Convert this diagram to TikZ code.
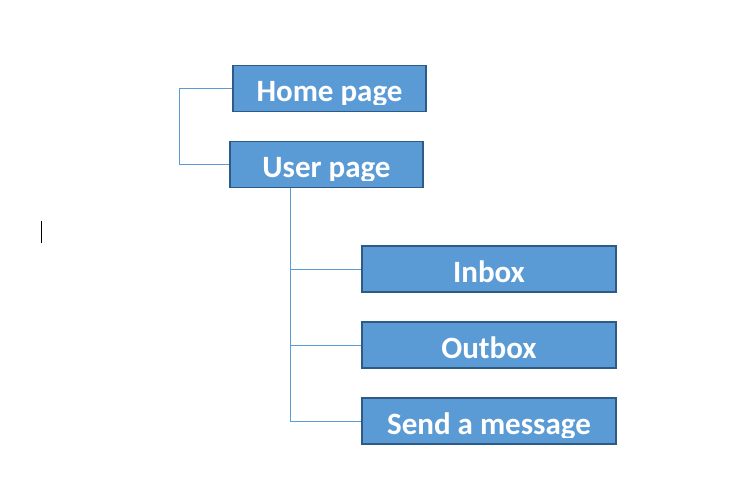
\documentclass[tikz,border=0pt]{standalone}
\usepackage{fontspec}
\setmainfont{Carlito}
\usetikzlibrary{positioning, calc}

\definecolor{pagefill}{HTML}{5B9BD5}
\definecolor{pageline}{HTML}{2E5A87}
\definecolor{linkcol}{HTML}{5B9BD5}

\tikzset{
  page/.style={draw=pageline, fill=pagefill, line width=1.5pt, inner sep=0pt, minimum height=46pt},
  pagetext/.style={anchor=base, text=white, inner sep=0pt, font=\bfseries\fontsize{31}{36}\selectfont},
  link/.style={draw=linkcol, line width=0.8pt},
}

\begin{document}
\begin{tikzpicture}[x=1pt, y=-1pt]
        \useasboundingbox (0,0) rectangle (730,502);

        % TOP LEVEL
        \node[page, minimum width=193pt] (home) at (329.5,88.5) {};
        \begin{scope}
          \clip ([yshift=-40pt]home.north west) rectangle (home.north east);
          \node[pagetext] (hometext) at ([yshift=-37pt]home.north) {Home page};
        \end{scope}

        \node[page, minimum width=193pt] (user) at (326.5,164.5) {};
        \begin{scope}
          \clip ([yshift=-40pt]user.north west) rectangle (user.north east);
          \node[pagetext] (usertext) at ([yshift=-37pt]user.north) {User page};
        \end{scope}

        % USER PAGE CHILDREN
        \node[page, minimum width=254pt] (inbox) at (489,269) {};
        \begin{scope}
          \clip ([yshift=-40pt]inbox.north west) rectangle (inbox.north east);
          \node[pagetext] (inboxtext) at ([yshift=-37pt]inbox.north) {Inbox};
        \end{scope}

        \node[page, minimum width=254pt] (outbox) at (489,345) {};
        \begin{scope}
          \clip ([yshift=-40pt]outbox.north west) rectangle (outbox.north east);
          \node[pagetext] (outboxtext) at ([yshift=-37pt]outbox.north) {Outbox};
        \end{scope}

        \node[page, minimum width=254pt] (send) at (489,421) {};
        \begin{scope}
          \clip ([yshift=-40pt]send.north west) rectangle (send.north east);
          \node[pagetext] (sendtext) at ([yshift=-37pt]send.north) {Send a message};
        \end{scope}

        % CONNECTORS
        \draw[link] (home.west) -- ++(-53,0) |- (user.west);
        \coordinate (trunk) at ([xshift=61pt]user.south west);
        \draw[link] (trunk) |- (send.west);
        \draw[link] (trunk |- inbox.west) -- (inbox.west);
        \draw[link] (trunk |- outbox.west) -- (outbox.west);

        % TEXT CURSOR
        \draw[black, line width=1pt] (41,221) -- (41,243);

\end{tikzpicture}
\end{document}
